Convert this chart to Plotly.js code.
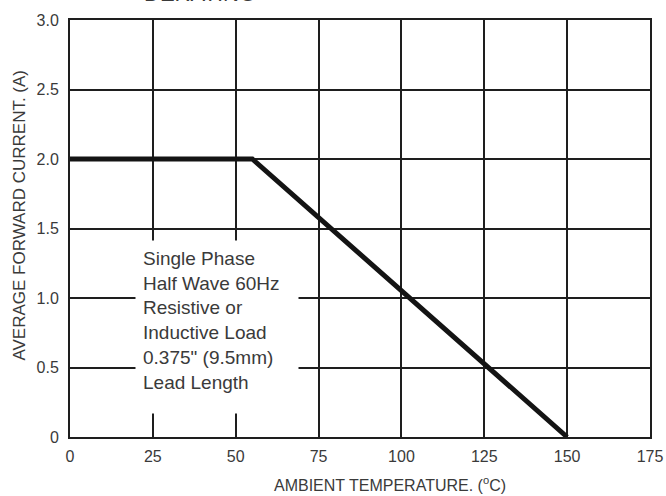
<!DOCTYPE html>
<html>
<head>
<meta charset="utf-8">
<script src="https://cdn.plot.ly/plotly-3.0.1.min.js"></script>
<style>html,body{margin:0;padding:0;background:#fff;}#chart{width:666px;height:496px;}</style>
</head>
<body>
<div id="chart"></div>
<script>
// Data
const tempC = [0, 55, 150];
const currentA = [2.0, 2.0, 0];
const xTickVals = [0, 25, 50, 75, 100, 125, 150, 175];
const xTickText = ['0', '25', '50', '75', '100', '125', '150', '175'];
const yTickVals = [0, 0.5, 1.0, 1.5, 2.0, 2.5, 3.0];
const yTickText = ['0', '0.5', '1.0', '1.5', '2.0', '2.5', '3.0'];
const noteLines = ['Single Phase', 'Half Wave 60Hz', 'Resistive or', 'Inductive Load', '0.375" (9.5mm)', 'Lead Length'];
const chartTitle = 'DERATING';
const xTitle = 'AMBIENT TEMPERATURE. (<sup>o</sup>C)';
const yTitle = 'AVERAGE FORWARD CURRENT. (A)';

const font = 'Liberation Sans, Arial, sans-serif';
const gridCol = '#1e1e1e';

const trace = {
  x: tempC, y: currentA, type: 'scatter', mode: 'lines',
  line: {color: '#141414', width: 5},
  hoverinfo: 'skip', showlegend: false
};

const layout = {
  width: 666, height: 496,
  margin: {l: 70, r: 16, t: 20, b: 59},
  paper_bgcolor: '#ffffff', plot_bgcolor: '#ffffff',
  showlegend: false,
  font: {family: font, color: '#3a3a3a', size: 16},
  xaxis: {
    range: [0, 175], tickvals: xTickVals, ticktext: xTickText,
    showgrid: true, gridcolor: gridCol, gridwidth: 2,
    showline: true, linecolor: gridCol, linewidth: 2, mirror: true,
    zeroline: false, ticks: '', ticklabelstandoff: 4,
    tickfont: {family: font, size: 16, color: '#3a3a3a'},
    fixedrange: true
  },
  yaxis: {
    range: [0, 3], tickvals: yTickVals, ticktext: yTickText,
    showgrid: true, gridcolor: gridCol, gridwidth: 2,
    showline: true, linecolor: gridCol, linewidth: 2, mirror: true,
    zeroline: false, ticks: '', ticklabelstandoff: 6,
    tickfont: {family: font, size: 16, color: '#3a3a3a'},
    fixedrange: true
  },
  annotations: [
    {
      text: noteLines.join('<br>'), xref: 'x', yref: 'y', x: 19.6, y: 1.42,
      xanchor: 'left', yanchor: 'top', align: 'left', valign: 'top',
      showarrow: false, bgcolor: '#ffffff', borderpad: 7, width: 148, height: 158,
      font: {family: font, size: 19, color: '#3a3a3a'}
    },
    {
      text: xTitle, xref: 'paper', yref: 'paper', x: 0.552, y: 0,
      xanchor: 'center', yanchor: 'middle', yshift: -47, showarrow: false,
      font: {family: font, size: 16, color: '#3a3a3a'}
    },
    {
      text: yTitle, xref: 'paper', yref: 'paper', x: 0, y: 0.531,
      xanchor: 'center', yanchor: 'middle', xshift: -50, textangle: -90, showarrow: false,
      font: {family: font, size: 17, color: '#3a3a3a'}
    },
    {
      text: chartTitle, xref: 'paper', yref: 'paper', x: 0.224, y: 1,
      xanchor: 'center', yanchor: 'middle', yshift: 27, showarrow: false,
      font: {family: font, size: 22, color: '#3a3a3a'}
    }
  ]
};

Plotly.newPlot('chart', [trace], layout, {displayModeBar: false, staticPlot: true});
</script>
</body>
</html>
